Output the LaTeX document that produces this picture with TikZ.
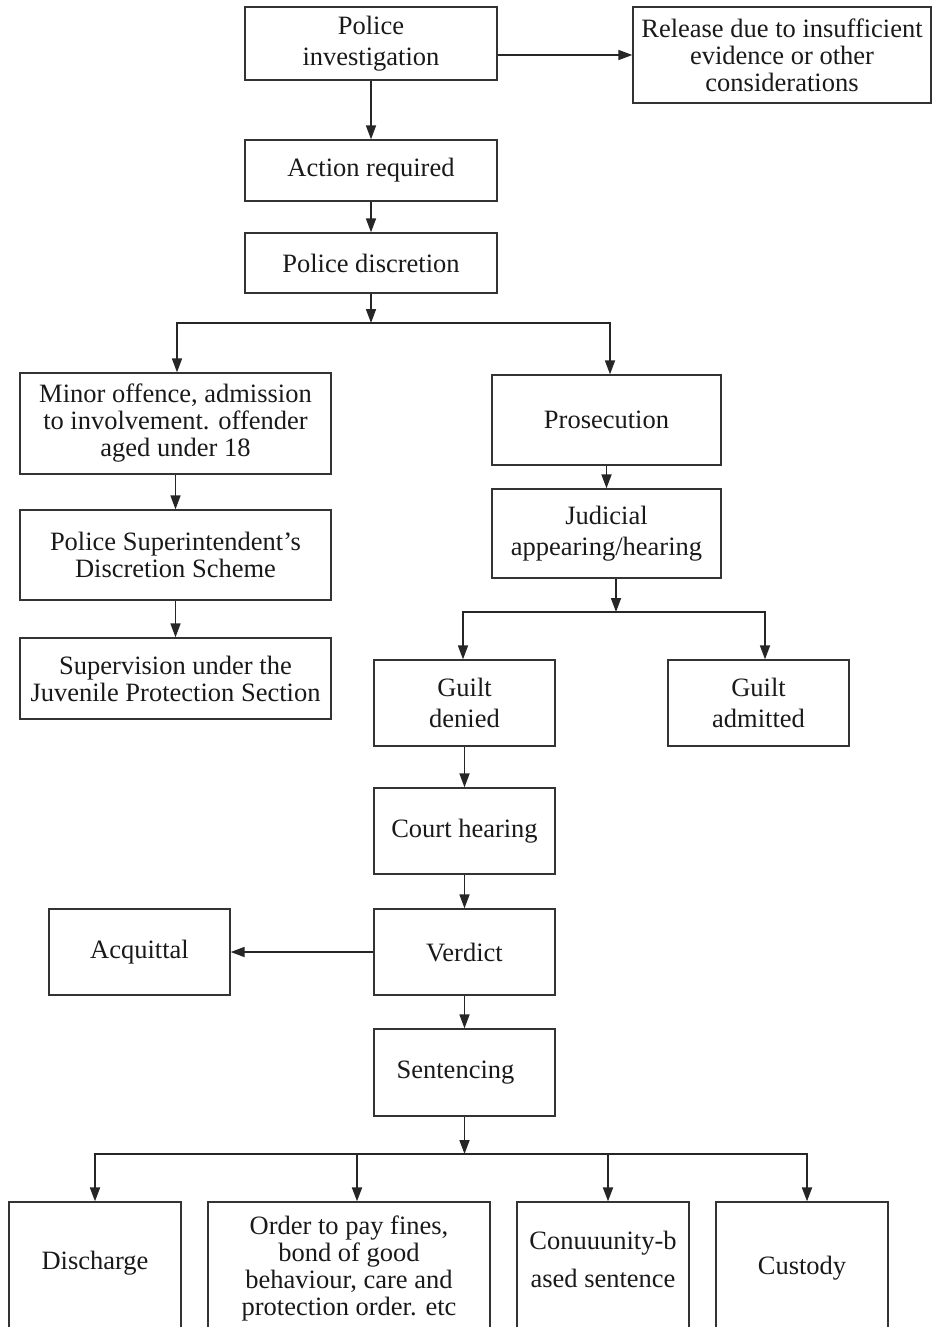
\documentclass[tikz,border=0pt]{standalone}
\usepackage{fontspec}
\setmainfont{Liberation Serif}
\usetikzlibrary{arrows.meta}
\tikzset{
  box/.style={draw=black!80, line width=0.65pt, align=center, inner sep=0pt,
    text=black!90, font=\fontsize{13.25}{13.5}\selectfont},
  loose/.style={font=\fontsize{13.25}{15.5}\selectfont},
  col/.style={box, minimum width=90.5pt, minimum height=43pt},
  leaf/.style={box, minimum width=86pt, minimum height=66pt},
  arr/.style={draw=black!85, line width=0.85pt, -{Triangle[length=7pt,width=5pt]}},
}
\begin{document}
\begin{tikzpicture}[x=0.5pt,y=-0.5pt]
    \useasboundingbox (0,0) rectangle (933,1327);
    % police
    \node[box,loose,minimum width=126pt,minimum height=36.5pt] (pinv) at (371,43.5) {Police\\investigation};
    \node[box,minimum width=149pt,minimum height=48pt] (rel) at (782,55) {Release due to insufficient\\evidence or other\\considerations};
    \node[box,minimum width=126pt,minimum height=30.5pt] (action) at (371,170.5) {Action required};
    \node[box,minimum width=126pt,minimum height=30pt] (pdisc) at (371,263) {Police discretion};
    % left branch
    \node[box,minimum width=155.5pt,minimum height=50.5pt] (minor) at (175.5,423.5) {Minor offence, admission\\to involvement. offender\\aged under 18};
    \node[box,minimum width=155.5pt,minimum height=45pt] (psds) at (175.5,555) {Police Superintendent’s\\Discretion Scheme};
    \node[box,minimum width=155.5pt,minimum height=40.5pt] (superv) at (175.5,678.5) {Supervision under the\\Juvenile Protection Section};
    % right branch
    \node[box,minimum width=114.5pt,minimum height=45pt] (pros) at (606.5,420) {Prosecution};
    \node[box,loose,minimum width=114.5pt,minimum height=44.5pt] (jud) at (606.5,533.5) {Judicial\\appearing/hearing};
    \node[col,loose] (gden) at (464.5,703) {Guilt\\denied};
    \node[col,loose] (gadm) at (758.5,703) {Guilt\\admitted};
    \node[col] (court) at (464.5,831) {Court hearing};
    \node[col] (verd) at (464.5,952) {Verdict};
    \node[col] (acq) at (139.5,952) {Acquittal};
    \node[col,minimum height=43.5pt] (sent) at (464.5,1072.5) {\hspace*{-9pt}Sentencing};
    % sentences
    \node[leaf] (disc) at (95,1268) {Discharge\\[-5.5pt]};
    \node[leaf,minimum width=141pt] (order) at (349,1268) {Order to pay fines,\\bond of good\\behaviour, care and\\protection order. etc};
    \node[leaf,font=\fontsize{13.25}{19}\selectfont] (comm) at (603,1268) {Conuuunity-b\\ased sentence\\[-10pt]};
    \node[leaf] (cust) at (802,1268) {Custody};

    \coordinate (pb) at (371,323);
    \coordinate (jb) at (616,612);
    \coordinate (sb) at (464.5,1154);

    \draw[arr] (pinv.east |- rel.west) -- (rel.west);
    \draw[arr] (pinv) -- (action);
    \draw[arr] (action) -- (pdisc);
    \draw[arr] (pdisc) -- (pb);
    \draw[arr] (pb) -| ([xshift=0.75pt]minor.north);
    \draw[arr] (pb) -| ([xshift=1.75pt]pros.north);
    \draw[arr] (minor) -- (psds);
    \draw[arr] (psds) -- (superv);
    \draw[arr] (pros) -- (jud);
    \draw[arr] (jud.south -| jb) -- (jb);
    \draw[arr] (jb) -| ([xshift=-0.75pt]gden.north);
    \draw[arr] (jb) -| ([xshift=3.25pt]gadm.north);
    \draw[arr] (gden) -- (court);
    \draw[arr] (court) -- (verd);
    \draw[arr] (verd) -- (acq);
    \draw[arr] (verd) -- (sent);
    \draw[arr] (sent) -- (sb);
    \foreach \n/\dx in {disc/0,order/4,comm/2.5,cust/2.5}
      \draw[arr,line width=1pt] (sb) -| ([xshift=\dx pt]\n.north);
\end{tikzpicture}
\end{document}
